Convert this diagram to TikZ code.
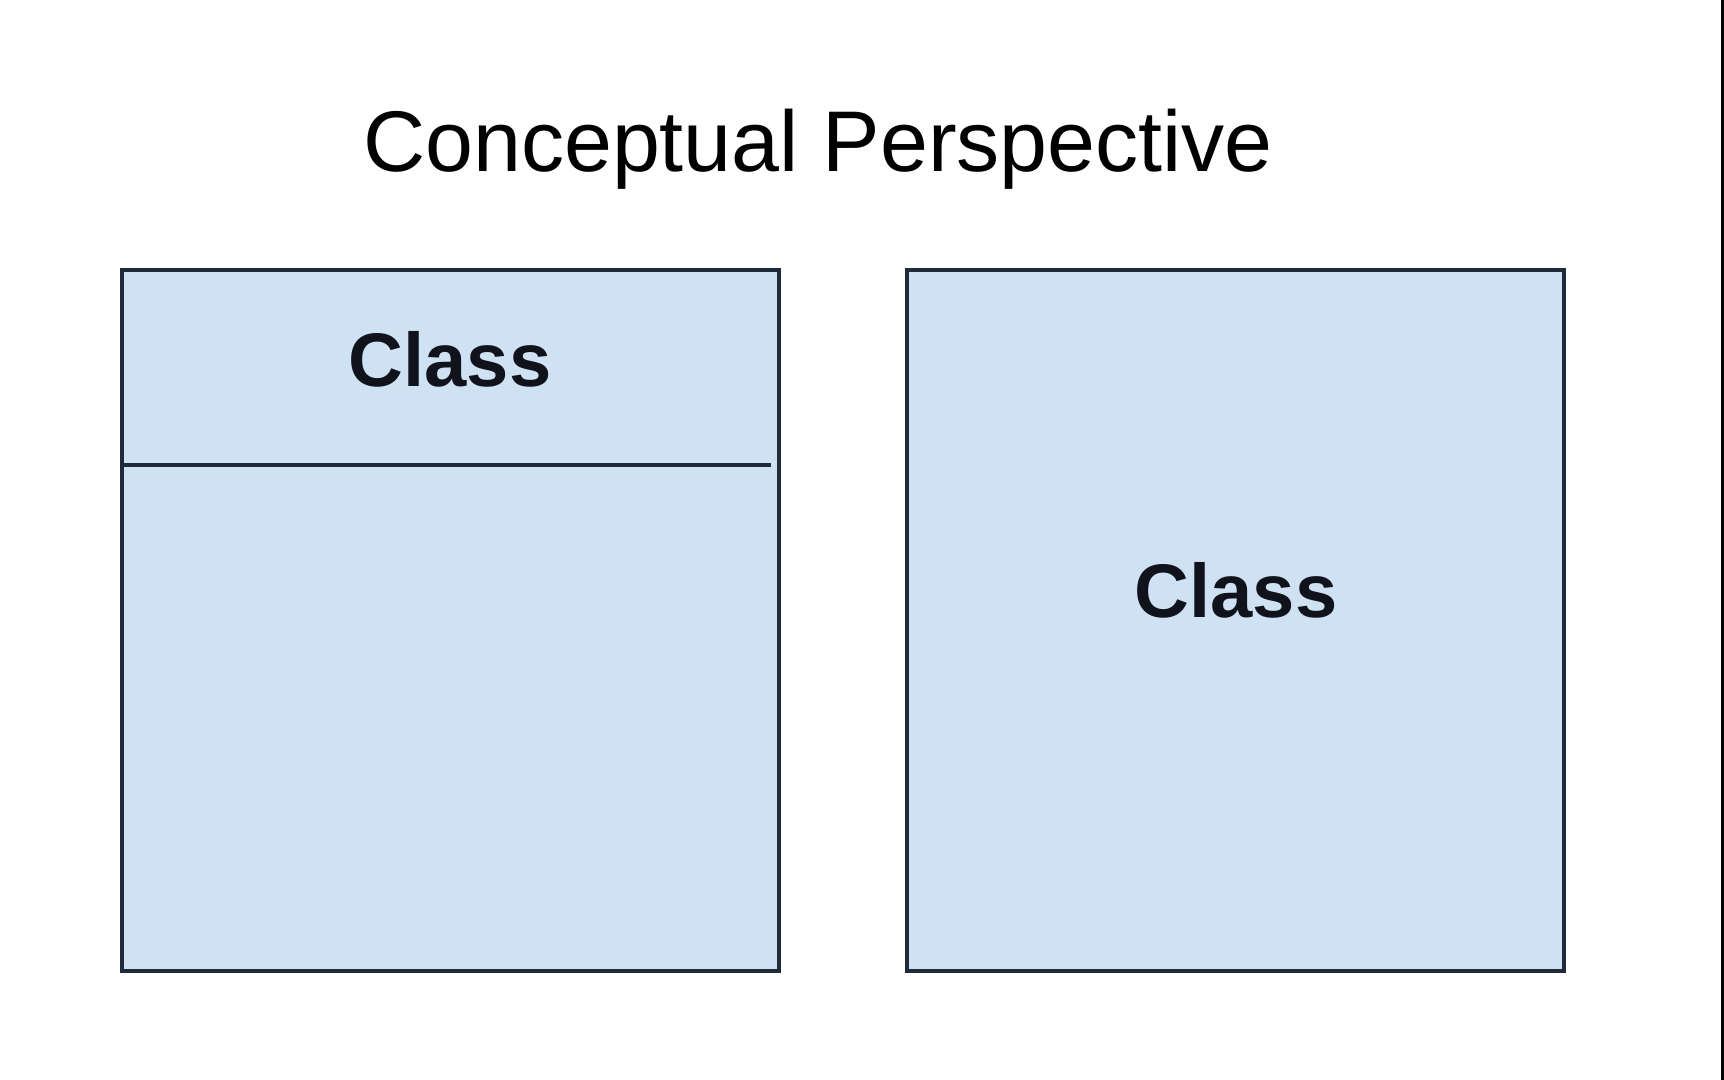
\documentclass[tikz,border=0pt]{standalone}
\usepackage{fontspec}
\setmainfont{Liberation Sans}
\definecolor{boxfill}{HTML}{CFE2F3}
\definecolor{boxline}{HTML}{1F2A3A}
\definecolor{txt}{HTML}{10121C}
\begin{document}
\begin{tikzpicture}[x=0.01cm,y=-0.01cm,
  classbox/.style={draw=boxline,fill=boxfill,line width=0.9pt},
  classlabel/.style={font=\fontsize{21.6}{26}\selectfont\bfseries,text=txt,anchor=base,inner sep=0pt},
  titlelabel/.style={font=\fontsize{24.5}{30}\selectfont,text=black,anchor=base,inner sep=0pt}]
\useasboundingbox (0,0) rectangle (1724,1080);
\fill[white] (0,0) rectangle (1724,1080);
\fill[black] (1721,0) rectangle (1724,1080);
\node[titlelabel] (title) at (818,172) {Conceptual Perspective};
\draw[classbox] (122,270) rectangle (779,971);
\coordinate (divL) at (122,465);
\coordinate (divR) at (771,465);
\draw[boxline,line width=0.9pt] (divL) -- (divR);
\node[classlabel] (c1) at (450,387) {Class};
\draw[classbox] (907,270) rectangle (1564,971);
\node[classlabel] (c2) at (1236,618) {Class};
\end{tikzpicture}
\end{document}
